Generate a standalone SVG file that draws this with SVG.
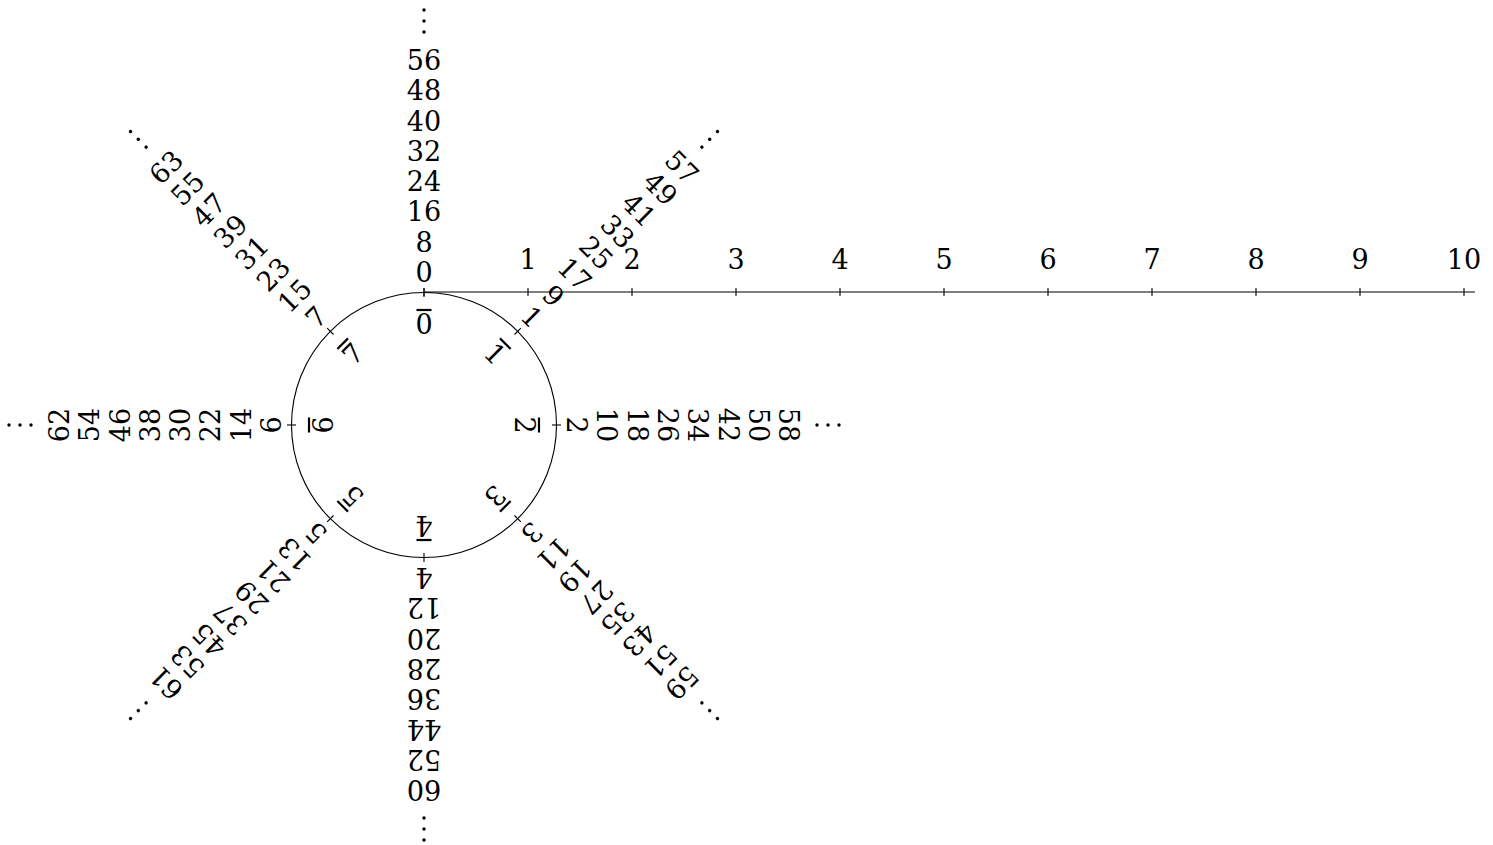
<svg xmlns="http://www.w3.org/2000/svg" width="1493" height="845" viewBox="0 0 1493 845">
<style>
.t text{font-family:"DejaVu Serif",serif;font-size:27px;fill:#000;text-anchor:middle}
.ln{stroke:#000;fill:none;stroke-width:1.1}
.ov{stroke:#000;stroke-width:2.2}
</style>
<defs>
<g id="dots"><circle cx="0" cy="-393" r="1.7"/><circle cx="0" cy="-404" r="1.7"/><circle cx="0" cy="-415" r="1.7"/></g>
<g id="tick"><line class="ln" x1="0" y1="-128" x2="0" y2="-137"/></g>
<g id="bar"><line class="ov" x1="-7.5" y1="-115" x2="7.5" y2="-115"/></g>
</defs>
<rect width="1493" height="845" fill="#fff"/>
<g id="connectors">
<circle class="ln" cx="424" cy="425" r="132.5"/>
<line class="ln" x1="424" y1="292" x2="1475" y2="292"/>
<g class="ln">
<line x1="424" y1="288" x2="424" y2="296"/>
<line x1="528" y1="288" x2="528" y2="296"/>
<line x1="632" y1="288" x2="632" y2="296"/>
<line x1="736" y1="288" x2="736" y2="296"/>
<line x1="840" y1="288" x2="840" y2="296"/>
<line x1="944" y1="288" x2="944" y2="296"/>
<line x1="1048" y1="288" x2="1048" y2="296"/>
<line x1="1152" y1="288" x2="1152" y2="296"/>
<line x1="1256" y1="288" x2="1256" y2="296"/>
<line x1="1360" y1="288" x2="1360" y2="296"/>
<line x1="1464" y1="288" x2="1464" y2="296"/>
</g>
</g>
<g class="t">
<g id="numberline-labels">
<text x="528" y="269">1</text>
<text x="632" y="269">2</text>
<text x="736" y="269">3</text>
<text x="840" y="269">4</text>
<text x="944" y="269">5</text>
<text x="1048" y="269">6</text>
<text x="1152" y="269">7</text>
<text x="1256" y="269">8</text>
<text x="1360" y="269">9</text>
<text x="1464" y="269">10</text>
</g>
<g id="arm0" transform="translate(424,425) rotate(0)">
<use href="#tick"/><use href="#bar"/><text x="0" y="-91">0</text>
<text y="-143">0</text><text y="-173.3">8</text><text y="-203.6">16</text><text y="-233.9">24</text><text y="-264.2">32</text><text y="-294.5">40</text><text y="-324.8">48</text><text y="-355.1">56</text>
<use href="#dots"/>
</g>
<g id="arm1" transform="translate(424,425) rotate(45)">
<use href="#tick"/><use href="#bar"/><text x="0" y="-91">1</text>
<text y="-143">1</text><text y="-173.3">9</text><text y="-203.6">17</text><text y="-233.9">25</text><text y="-264.2">33</text><text y="-294.5">41</text><text y="-324.8">49</text><text y="-355.1">57</text>
<use href="#dots"/>
</g>
<g id="arm2" transform="translate(424,425) rotate(90)">
<use href="#tick"/><use href="#bar"/><text x="0" y="-91">2</text>
<text y="-143">2</text><text y="-173.3">10</text><text y="-203.6">18</text><text y="-233.9">26</text><text y="-264.2">34</text><text y="-294.5">42</text><text y="-324.8">50</text><text y="-355.1">58</text>
<use href="#dots"/>
</g>
<g id="arm3" transform="translate(424,425) rotate(135)">
<use href="#tick"/><use href="#bar"/><text x="0" y="-91">3</text>
<text y="-143">3</text><text y="-173.3">11</text><text y="-203.6">19</text><text y="-233.9">27</text><text y="-264.2">35</text><text y="-294.5">43</text><text y="-324.8">51</text><text y="-355.1">59</text>
<use href="#dots"/>
</g>
<g id="arm4" transform="translate(424,425) rotate(180)">
<use href="#tick"/><use href="#bar"/><text x="0" y="-91">4</text>
<text y="-143">4</text><text y="-173.3">12</text><text y="-203.6">20</text><text y="-233.9">28</text><text y="-264.2">36</text><text y="-294.5">44</text><text y="-324.8">52</text><text y="-355.1">60</text>
<use href="#dots"/>
</g>
<g id="arm5" transform="translate(424,425) rotate(225)">
<use href="#tick"/><use href="#bar"/><text x="0" y="-91">5</text>
<text y="-143">5</text><text y="-173.3">13</text><text y="-203.6">21</text><text y="-233.9">29</text><text y="-264.2">37</text><text y="-294.5">45</text><text y="-324.8">53</text><text y="-355.1">61</text>
<use href="#dots"/>
</g>
<g id="arm6" transform="translate(424,425) rotate(270)">
<use href="#tick"/><use href="#bar"/><text x="0" y="-91">6</text>
<text y="-143">6</text><text y="-173.3">14</text><text y="-203.6">22</text><text y="-233.9">30</text><text y="-264.2">38</text><text y="-294.5">46</text><text y="-324.8">54</text><text y="-355.1">62</text>
<use href="#dots"/>
</g>
<g id="arm7" transform="translate(424,425) rotate(315)">
<use href="#tick"/><use href="#bar"/><text x="0" y="-91">7</text>
<text y="-143">7</text><text y="-173.3">15</text><text y="-203.6">23</text><text y="-233.9">31</text><text y="-264.2">39</text><text y="-294.5">47</text><text y="-324.8">55</text><text y="-355.1">63</text>
<use href="#dots"/>
</g>
</g>
</svg>
